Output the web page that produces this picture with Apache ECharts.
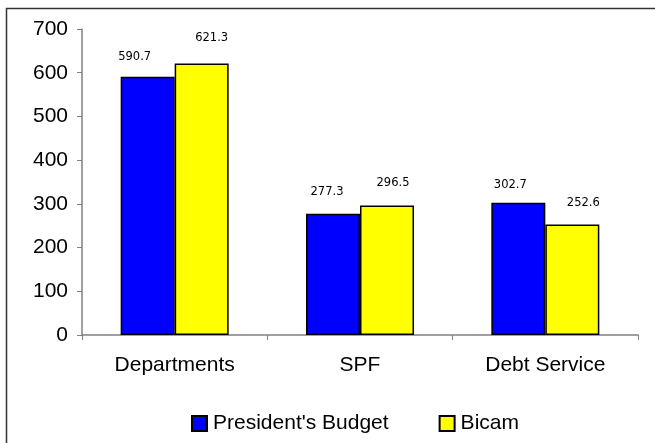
<!DOCTYPE html>
<html>
<head>
<meta charset="utf-8">
<script src="https://cdn.jsdelivr.net/npm/echarts@6/dist/echarts.min.js"></script>
<style>
html,body{margin:0;padding:0;background:#fff;}
#c{width:655px;height:443px;}
</style>
</head>
<body>
<div id="c"></div>
<script>
var categories = ["Departments", "SPF", "Debt Service"];
var seriesNames = ["President's Budget", "Bicam"];
var presidentsBudget = [590.7, 277.3, 302.7];
var bicam = [621.3, 296.5, 252.6];
var yTicks = [0, 100, 200, 300, 400, 500, 600, 700];

// label nudges (layout only)
var labelDx = [[-13, -6, -8], [10, 6, 11]];
var labelDy = [[-4, -6, -2], [-9, -6, -6]];

function buildData(vals, si) {
  return vals.map(function (v, i) {
    return { value: v, label: { offset: [labelDx[si][i], labelDy[si][i]] } };
  });
}

var chart = echarts.init(document.getElementById('c'), null, {renderer: 'canvas'});
var FONT = '"Liberation Sans", Arial, sans-serif';
var LFONT = '"DejaVu Sans", Verdana, sans-serif';
var option = {
  animation: false,
  backgroundColor: '#ffffff',
  graphic: [{
    type: 'rect',
    shape: {x: 6.5, y: 8.5, width: 700, height: 500},
    style: {fill: 'none', stroke: '#333333', lineWidth: 1.5},
    silent: true
  }],
  grid: {left: 82, right: 17, top: 29, bottom: 108, containLabel: false},
  legend: {
    data: seriesNames,
    left: 186,
    top: 408,
    icon: 'rect',
    itemWidth: 15,
    itemHeight: 15,
    itemGap: 50,
    textStyle: {fontFamily: FONT, fontSize: 21, color: '#000', lineHeight: 21, padding: [0, 0, 0, 1]}
  },
  xAxis: {
    type: 'category',
    data: categories,
    axisLine: {lineStyle: {color: '#808080', width: 1.5}},
    axisTick: {show: true, alignWithLabel: false, length: 5, lineStyle: {color: '#808080'}},
    axisLabel: {fontFamily: FONT, fontSize: 21, color: '#000', margin: 20}
  },
  yAxis: {
    type: 'value',
    min: yTicks[0],
    max: yTicks[yTicks.length - 1],
    interval: 100,
    axisLine: {show: true, lineStyle: {color: '#808080', width: 1.5}},
    axisTick: {show: true, length: 5, lineStyle: {color: '#808080'}},
    splitLine: {show: false},
    axisLabel: {fontFamily: FONT, fontSize: 21, color: '#000', margin: 14}
  },
  series: [
    {
      name: seriesNames[0],
      type: 'bar',
      data: buildData(presidentsBudget, 0),
      barWidth: 54,
      barGap: '0%',
      itemStyle: {color: '#0000FF', borderColor: '#000', borderWidth: 1.5},
      label: {show: true, position: 'top', distance: 10, fontFamily: LFONT, fontSize: 11.5, color: '#000',
        formatter: function (p) { return p.value.toFixed(1); }}
    },
    {
      name: seriesNames[1],
      type: 'bar',
      data: buildData(bicam, 1),
      barWidth: 54,
      barGap: '0%',
      itemStyle: {color: '#FFFF00', borderColor: '#000', borderWidth: 1.5},
      label: {show: true, position: 'top', distance: 10, fontFamily: LFONT, fontSize: 11.5, color: '#000',
        formatter: function (p) { return p.value.toFixed(1); }}
    }
  ]
};
chart.setOption(option);
</script>
</body>
</html>
